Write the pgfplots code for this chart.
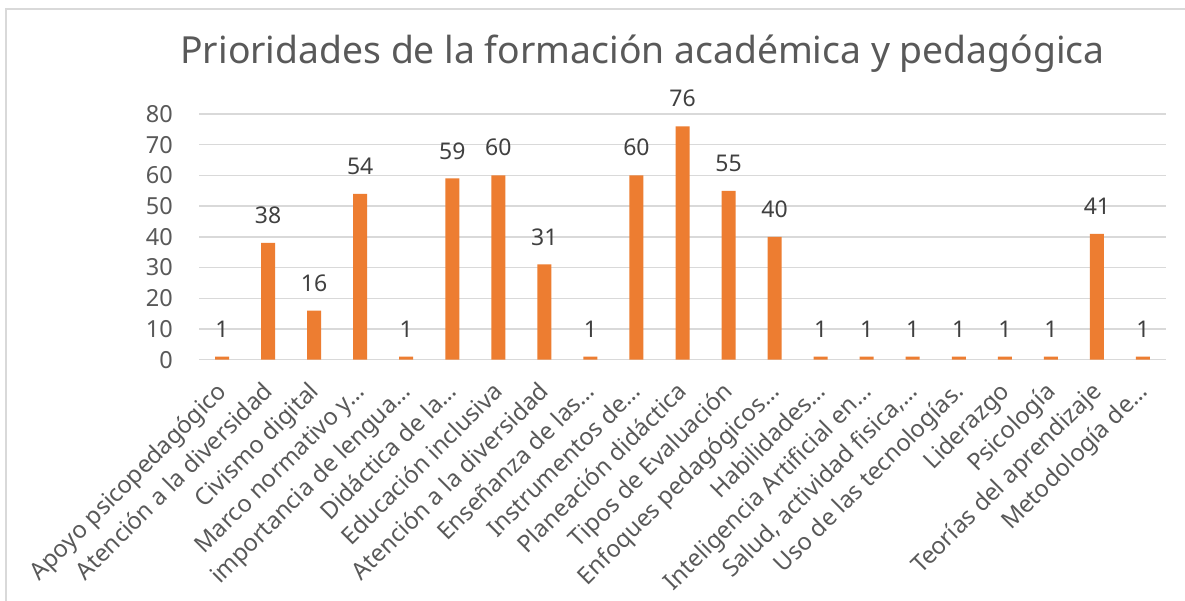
\documentclass[border=0pt]{standalone}
\usepackage{pgfplots}
\pgfplotsset{compat=1.18}
\usepackage{fontspec}
\setmainfont{Noto Sans}
\definecolor{barorange}{HTML}{ED7D31}
\definecolor{txtgray}{HTML}{595959}
\definecolor{lblgray}{HTML}{404040}
\definecolor{gridgray}{HTML}{D9D9D9}
\begin{document}
\begin{tikzpicture}[x=1pt,y=1pt]
\useasboundingbox (0,0) rectangle (1185,601);
\fill[white] (0,0) rectangle (1185,601);
\draw[gridgray, line width=1.5pt] (6,0) -- (6,592) -- (1185,592);
\node[anchor=base, text=txtgray, font=\fontsize{37.3}{42}\selectfont] at (642.5,537.7) {Prioridades de la formación académica y pedagógica};
\begin{axis}[
  at={(199pt,241.3pt)}, anchor=south west,
  scale only axis, width=967pt, height=245.7pt,
  xmin=-0.5, xmax=20.5, ymin=0, ymax=80,
  ytick={0,10,...,80},
  xtick={0,...,20},
  xticklabels={Apoyo psicopedagógico, Atención a la diversidad, Civismo digital, Marco normativo y…, importancia de lengua…, Didáctica de la…, Educación inclusiva, Atención a la diversidad, Enseñanza de las…, Instrumentos de…, Planeación didáctica, Tipos de Evaluación, Enfoques pedagógicos…, Habilidades…, Inteligencia Artificial en…, {Salud, actividad fisica,…}, Uso de las tecnologías., Liderazgo, Psicología, Teorías del aprendizaje, Metodología de…},
  axis line style={draw=none},
  major tick style={draw=none},
  ymajorgrids, grid style={gridgray, line width=1.5pt},
  /pgf/number format/assume math mode=true,
  tick label style={text=txtgray},
  yticklabel style={font=\fontsize{23.5}{27}\selectfont, anchor=east, inner sep=0pt, xshift=-26pt},
  xticklabel style={font=\fontsize{23.8}{27}\selectfont, xshift=6pt, yshift=-29pt, rotate=45, anchor=base east, inner sep=0pt},
  ybar, bar width=14pt, bar shift=0pt,
  nodes near coords,
  every node near coord/.append style={anchor=south, inner sep=0pt, yshift=19pt, font=\fontsize{23}{26}\selectfont, text=lblgray},
]
\addplot[fill=barorange, draw=none] coordinates {
(0,1) (1,38) (2,16) (3,54) (4,1) (5,59) (6,60) (7,31) (8,1) (9,60) (10,76)
(11,55) (12,40) (13,1) (14,1) (15,1) (16,1) (17,1) (18,1) (19,41) (20,1)};
\end{axis}
\end{tikzpicture}
\end{document}
